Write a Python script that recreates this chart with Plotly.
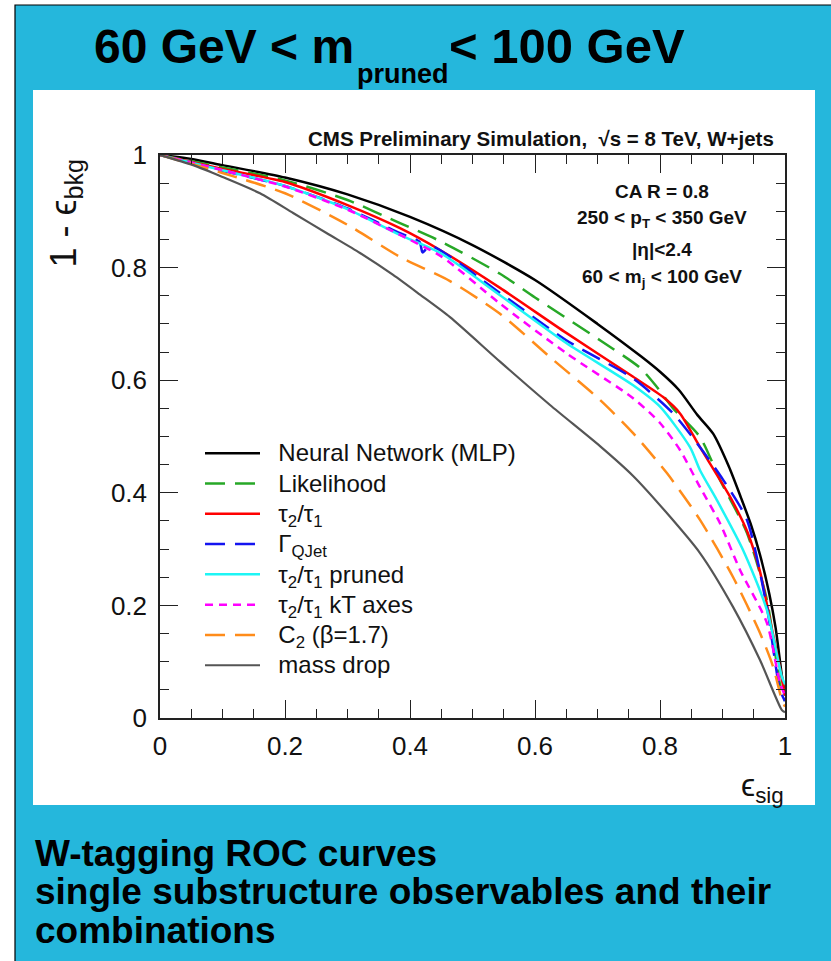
import plotly.graph_objects as go

# ---------------- data ----------------
mlp_x = [0, 0.05, 0.1, 0.2, 0.3, 0.4, 0.5, 0.6, 0.7, 0.77, 0.8, 0.83, 0.86, 0.885, 0.91, 0.93, 0.945, 0.96, 0.975, 0.985, 0.995, 1.0]
mlp_y = [1.0, 0.993, 0.982, 0.960, 0.930, 0.890, 0.840, 0.778, 0.700, 0.642, 0.615, 0.583, 0.538, 0.505, 0.447, 0.390, 0.345, 0.290, 0.220, 0.160, 0.075, 0.04]

lik_x = [0, 0.1, 0.2, 0.3, 0.384, 0.45, 0.544, 0.6, 0.704, 0.768, 0.795, 0.821, 0.864, 0.896, 0.939, 0.971, 0.992, 1.0]
lik_y = [1.0, 0.978, 0.955, 0.920, 0.879, 0.846, 0.789, 0.747, 0.671, 0.622, 0.588, 0.550, 0.499, 0.423, 0.329, 0.210, 0.060, 0.03]

tau_x = [0, 0.1, 0.2, 0.3, 0.384, 0.45, 0.544, 0.65, 0.757, 0.805, 0.832, 0.864, 0.896, 0.915, 0.94, 0.96, 0.976, 0.99, 1.0]
tau_y = [1.0, 0.975, 0.952, 0.911, 0.870, 0.830, 0.764, 0.684, 0.606, 0.570, 0.541, 0.481, 0.423, 0.387, 0.330, 0.260, 0.174, 0.100, 0.04]

qjet_x = [0, 0.1, 0.2, 0.3, 0.384, 0.415, 0.42, 0.426, 0.435, 0.544, 0.65, 0.757, 0.821, 0.864, 0.901, 0.939, 0.971, 0.992, 1.0]
qjet_y = [1.0, 0.972, 0.945, 0.905, 0.861, 0.846, 0.827, 0.833, 0.838, 0.755, 0.671, 0.603, 0.541, 0.481, 0.423, 0.352, 0.197, 0.050, 0.03]

taup_x = [0, 0.1, 0.2, 0.3, 0.384, 0.45, 0.544, 0.65, 0.757, 0.8, 0.848, 0.864, 0.891, 0.933, 0.971, 0.995, 1.0]
taup_y = [1.0, 0.973, 0.945, 0.904, 0.858, 0.825, 0.751, 0.666, 0.591, 0.553, 0.481, 0.440, 0.387, 0.298, 0.192, 0.073, 0.06]

taukt_x = [0, 0.1, 0.2, 0.3, 0.384, 0.45, 0.544, 0.65, 0.757, 0.8, 0.832, 0.864, 0.896, 0.928, 0.971, 0.992, 1.0]
taukt_y = [1.0, 0.973, 0.944, 0.903, 0.858, 0.820, 0.736, 0.648, 0.568, 0.524, 0.476, 0.410, 0.346, 0.263, 0.169, 0.062, 0.04]

c2_x = [0, 0.1, 0.2, 0.3, 0.384, 0.464, 0.544, 0.624, 0.704, 0.757, 0.811, 0.864, 0.917, 0.96, 0.981, 0.995, 1.0]
c2_y = [1.0, 0.968, 0.932, 0.876, 0.819, 0.776, 0.718, 0.641, 0.565, 0.506, 0.435, 0.352, 0.250, 0.151, 0.091, 0.032, 0.02]

md_x = [0, 0.053, 0.1, 0.16, 0.213, 0.267, 0.32, 0.373, 0.416, 0.464, 0.544, 0.624, 0.704, 0.757, 0.811, 0.864, 0.917, 0.96, 0.995, 1.0]
md_y = [1.0, 0.982, 0.961, 0.932, 0.897, 0.861, 0.826, 0.787, 0.752, 0.712, 0.633, 0.556, 0.483, 0.430, 0.364, 0.293, 0.197, 0.103, 0.014, 0.01]

series_names = [
    "Neural Network (MLP)",
    "Likelihood",
    "τ<sub>2</sub>/τ<sub>1</sub>",
    "Γ<sub>QJet</sub>",
    "τ<sub>2</sub>/τ<sub>1</sub> pruned",
    "τ<sub>2</sub>/τ<sub>1</sub> kT axes",
    "C<sub>2</sub> (β=1.7)",
    "mass drop",
]
series_x = [mlp_x, lik_x, tau_x, qjet_x, taup_x, taukt_x, c2_x, md_x]
series_y = [mlp_y, lik_y, tau_y, qjet_y, taup_y, taukt_y, c2_y, md_y]

tick_vals = [0, 0.2, 0.4, 0.6, 0.8, 1]
tick_text = ["0", "0.2", "0.4", "0.6", "0.8", "1"]

# ---------------- styles ----------------
colors = ["#000000", "#27A827", "#FF0000", "#1414F0", "#1EF5F5", "#FF00FF", "#FF8C1A", "#555555"]
dashes = ["solid", "20px,10px", "solid", "20px,10px", "solid", "8px,6px", "20px,10px", "solid"]
widths = [2.5, 2.5, 2.5, 2.5, 2.5, 2.5, 2.5, 2.2]

W, H = 831, 961
L, R, T, B = 160, 785, 155, 718  # plot area in pixels


def px(x):
    return (x - L) / (R - L)


def py(y):
    return (B - y) / (B - T)


FONT = "Liberation Sans, Arial, Helvetica, sans-serif"

fig = go.Figure()
for name, xs, ys, c, d, w in zip(series_names, series_x, series_y, colors, dashes, widths):
    label = '<span style="font-size:24px">\u00a0\u00a0' + name + '</span>'
    fig.add_trace(go.Scatter(x=xs, y=ys, mode="lines", name=label,
                             line=dict(color=c, dash=d, width=w, shape="spline", smoothing=0.7)))

axis_common = dict(
    range=[0, 1], showgrid=False, zeroline=False, showline=True, linecolor="#222",
    linewidth=1.5, mirror="ticks", ticks="inside", ticklen=18, tickwidth=1.3,
    tickcolor="#222", tickvals=tick_vals, ticktext=tick_text,
    tickfont=dict(family=FONT, size=26, color="#111"),
    minor=dict(dtick=0.05, ticks="inside", ticklen=9, tickwidth=1.3, tickcolor="#222"),
)
fig.update_xaxes(**axis_common, ticklabelstandoff=4)
fig.update_yaxes(**axis_common, ticklabelstandoff=6)

shapes = [
    # cyan background with black border (left/top)
    dict(type="rect", xref="paper", yref="paper", x0=px(15), x1=px(840), y0=py(5), y1=py(970),
         fillcolor="#25B7DC", line=dict(color="#000", width=1.2), layer="below"),
    # white panel
    dict(type="rect", xref="paper", yref="paper", x0=px(33), x1=px(815), y0=py(90), y1=py(805),
         fillcolor="#FFFFFF", line=dict(width=0), layer="below"),
]

ann = []
# title
ann.append(dict(text="<b>60 GeV &lt; m</b>", x=px(356), y=py(46), xanchor="right", yanchor="middle",
                font=dict(family=FONT, size=48, color="#000")))
ann.append(dict(text="<b>pruned</b>", x=px(355), y=py(74), xanchor="left", yanchor="middle",
                font=dict(family=FONT, size=27, color="#000")))
ann.append(dict(text="<b>&lt; 100 GeV</b>", x=px(447), y=py(46), xanchor="left", yanchor="middle",
                font=dict(family=FONT, size=49, color="#000")))
# CMS header
ann.append(dict(text="<b>CMS Preliminary Simulation,  √s = 8 TeV, W+jets</b>", x=px(776), y=py(139),
                xanchor="right", yanchor="middle", font=dict(family=FONT, size=20.5, color="#111")))
# info box
info_lines = ["<b>CA R = 0.8</b>", "<b>250 &lt; p<sub>T</sub> &lt; 350 GeV</b>", "<b>|η|&lt;2.4</b>",
              "<b>60 &lt; m<sub>j</sub> &lt; 100 GeV</b>"]
info_y = [191, 219, 250, 278]
for t, yy in zip(info_lines, info_y):
    ann.append(dict(text=t, x=px(662), y=py(yy), xanchor="center", yanchor="middle",
                    font=dict(family=FONT, size=19, color="#111")))
# axis titles
ann.append(dict(text="ϵ<sub>sig</sub>", x=px(786), y=py(787), xanchor="right", yanchor="middle",
                font=dict(family=FONT, size=32, color="#111")))
ann.append(dict(text="1 - ϵ<sub>bkg</sub>", x=px(65), y=py(157), xanchor="center", yanchor="top",
                textangle=-90, font=dict(family=FONT, size=36, color="#111")))
# bottom caption
cap_lines = ["<b>W-tagging ROC curves</b>", "<b>single substructure observables and their</b>",
             "<b>combinations</b>"]
cap_y = [853, 891, 930]
for t, yy in zip(cap_lines, cap_y):
    ann.append(dict(text=t, x=px(33), y=py(yy), xanchor="left", yanchor="middle",
                    font=dict(family=FONT, size=37, color="#000")))
for a in ann:
    a.update(xref="paper", yref="paper", showarrow=False)

fig.update_layout(
    width=W, height=H, margin=dict(l=L, r=W - R, t=T, b=H - B),
    paper_bgcolor="#FFFFFF", plot_bgcolor="#FFFFFF",
    shapes=shapes, annotations=ann,
    showlegend=True,
    legend=dict(x=px(200), y=py(433), xanchor="left", yanchor="top", bgcolor="rgba(0,0,0,0)",
                font=dict(family=FONT, size=21, color="#111"), itemwidth=55,
                tracegroupgap=0),
)

fig.write_html("out.html")
